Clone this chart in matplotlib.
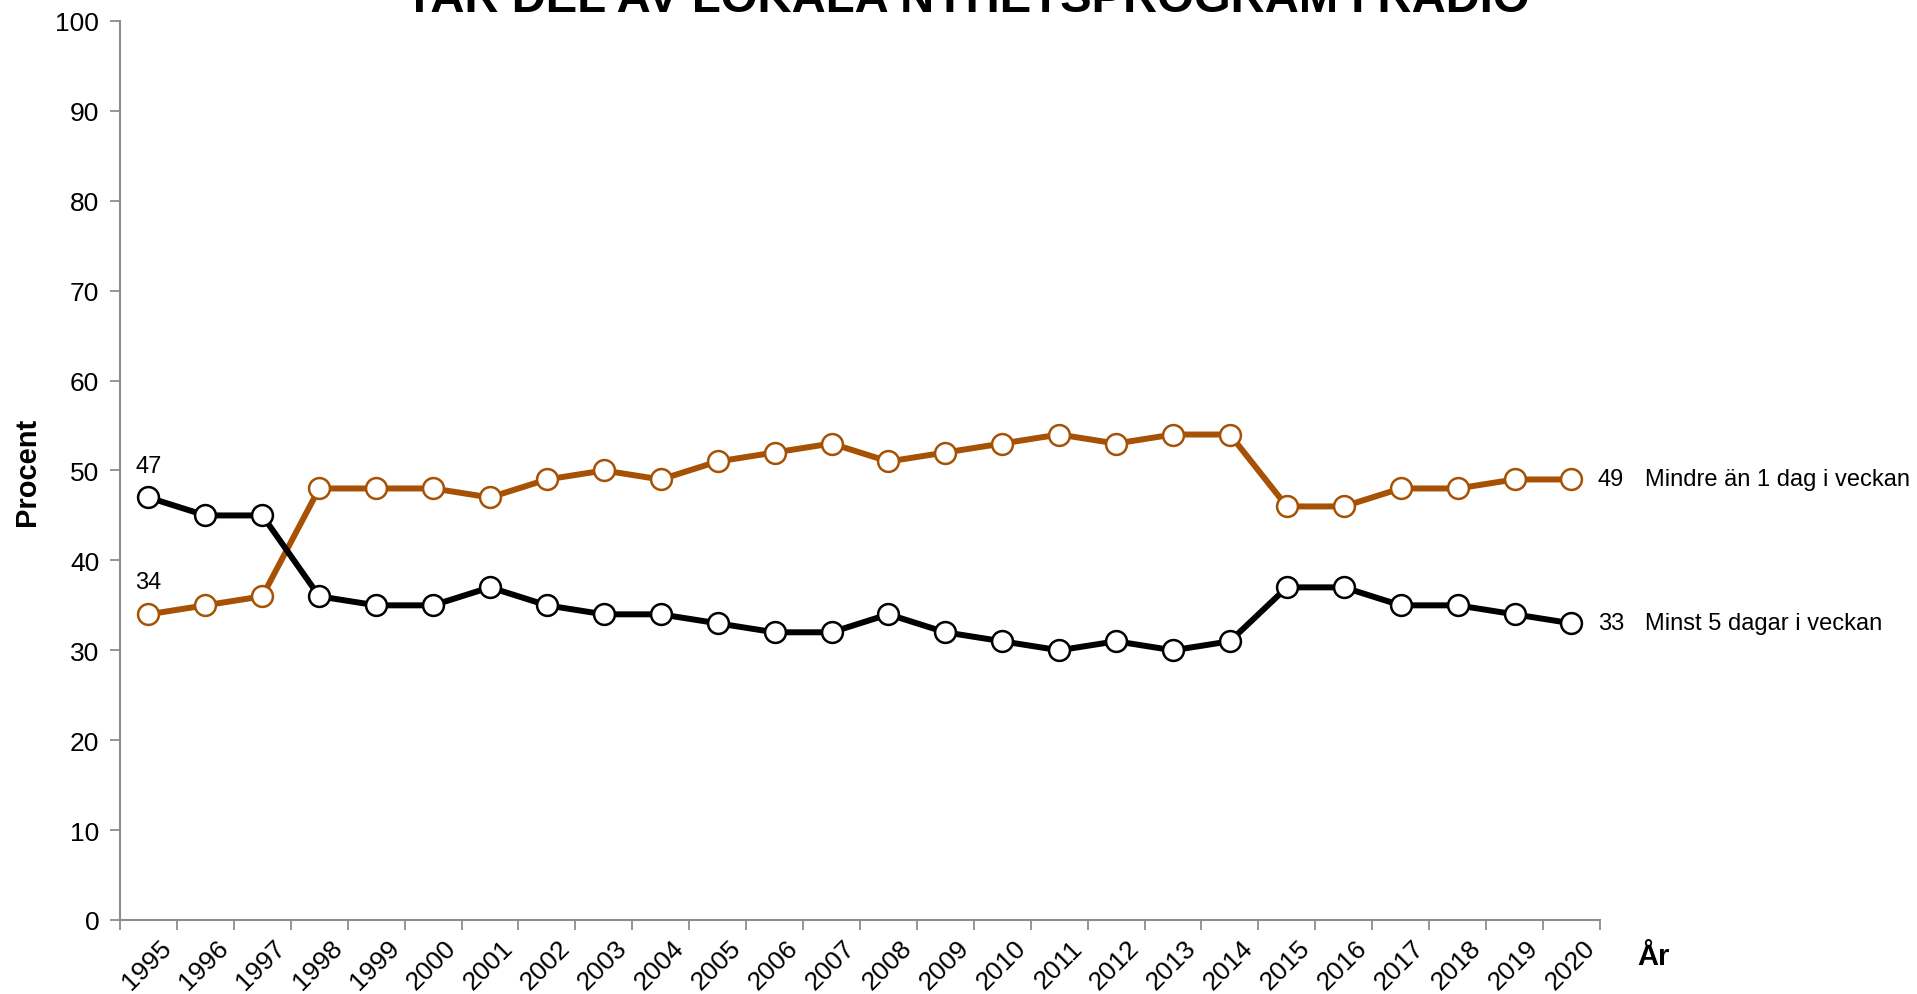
import matplotlib
matplotlib.use("Agg")
import matplotlib.pyplot as plt
import matplotlib.transforms as mtransforms
import numpy as np

plt.rcParams['font.family'] = ['Liberation Sans', 'DejaVu Sans']

years = ["1995", "1996", "1997", "1998", "1999", "2000", "2001", "2002", "2003",
         "2004", "2005", "2006", "2007", "2008", "2009", "2010", "2011", "2012",
         "2013", "2014", "2015", "2016", "2017", "2018", "2019", "2020"]
minst5 = [47, 45, 45, 36, 35, 35, 37, 35, 34, 34, 33, 32, 32, 34, 32, 31, 30, 31,
          30, 31, 37, 37, 35, 35, 34, 33]
mindre1 = [34, 35, 36, 48, 48, 48, 47, 49, 50, 49, 51, 52, 53, 51, 52, 53, 54, 53,
           54, 54, 46, 46, 48, 48, 49, 49]
seriesNames = ["Minst 5 dagar i veckan", "Mindre än 1 dag i veckan"]
title = "TAR DEL AV LOKALA NYHETSPROGRAM I RADIO"

orange = "#A65103"
axisGray = "#8C8C8C"

fig = plt.figure(figsize=(19.17, 9.95), dpi=100)
ax = fig.add_axes([0.0626, 0.0744, 0.7720, 0.9035])

x = np.arange(len(years))
for vals, color in [(mindre1, orange), (minst5, "black")]:
  ax.plot(x, vals, color=color, lw=4.3, marker="o", ms=15,
          mfc="white", mec=color, mew=1.8, zorder=3)

ax.set_xlim(-0.5, len(years) - 0.5)
ax.set_ylim(0, 100)
ax.set_yticks(range(0, 101, 10))

# category labels centred, tick marks between categories
ax.set_xticks(x)
ax.set_xticklabels(years, rotation=45, ha="right", va="center",
                   rotation_mode="anchor", fontsize=19)
ax.tick_params(axis="x", which="major", length=0, pad=17)
shift = mtransforms.ScaledTranslation(14 / 72, 0, fig.dpi_scale_trans)
for lbl in ax.get_xticklabels():
  lbl.set_transform(lbl.get_transform() + shift)
ax.set_xticks(np.arange(-0.5, len(years)), minor=True)
ax.tick_params(axis="x", which="minor", length=7, width=1.3, color=axisGray)
ax.tick_params(axis="y", length=7, width=1.3, color=axisGray, labelsize=19, pad=8)

for side in ["top", "right"]:
  ax.spines[side].set_visible(False)
for side in ["left", "bottom"]:
  ax.spines[side].set_color(axisGray)
  ax.spines[side].set_linewidth(1.5)

ax.set_ylabel("Procent", fontsize=21, fontweight="bold", labelpad=10)
fig.text(1637 / 1917, 1 - 965 / 995, "År", fontsize=21, fontweight="bold",
         ha="left", va="baseline")

# start values
for vals in [minst5, mindre1]:
  ax.annotate(str(vals[0]), (x[0], vals[0]), xytext=(0, 15),
              textcoords="offset points", ha="center", va="bottom", fontsize=17)

# end values and series names
for vals, name in [(minst5, seriesNames[0]), (mindre1, seriesNames[1])]:
  ax.annotate(str(vals[-1]), (x[-1], vals[-1]), xytext=(19, 0),
              textcoords="offset points", ha="left", va="center", fontsize=17,
              annotation_clip=False)
  ax.annotate(name, (x[-1], vals[-1]), xytext=(53, 0),
              textcoords="offset points", ha="left", va="center", fontsize=17,
              annotation_clip=False)

fig.text(0.5045, 1 - 12 / 995, title, fontsize=34, fontweight="bold",
         ha="center", va="baseline")

fig.savefig("out.png", dpi=100)
